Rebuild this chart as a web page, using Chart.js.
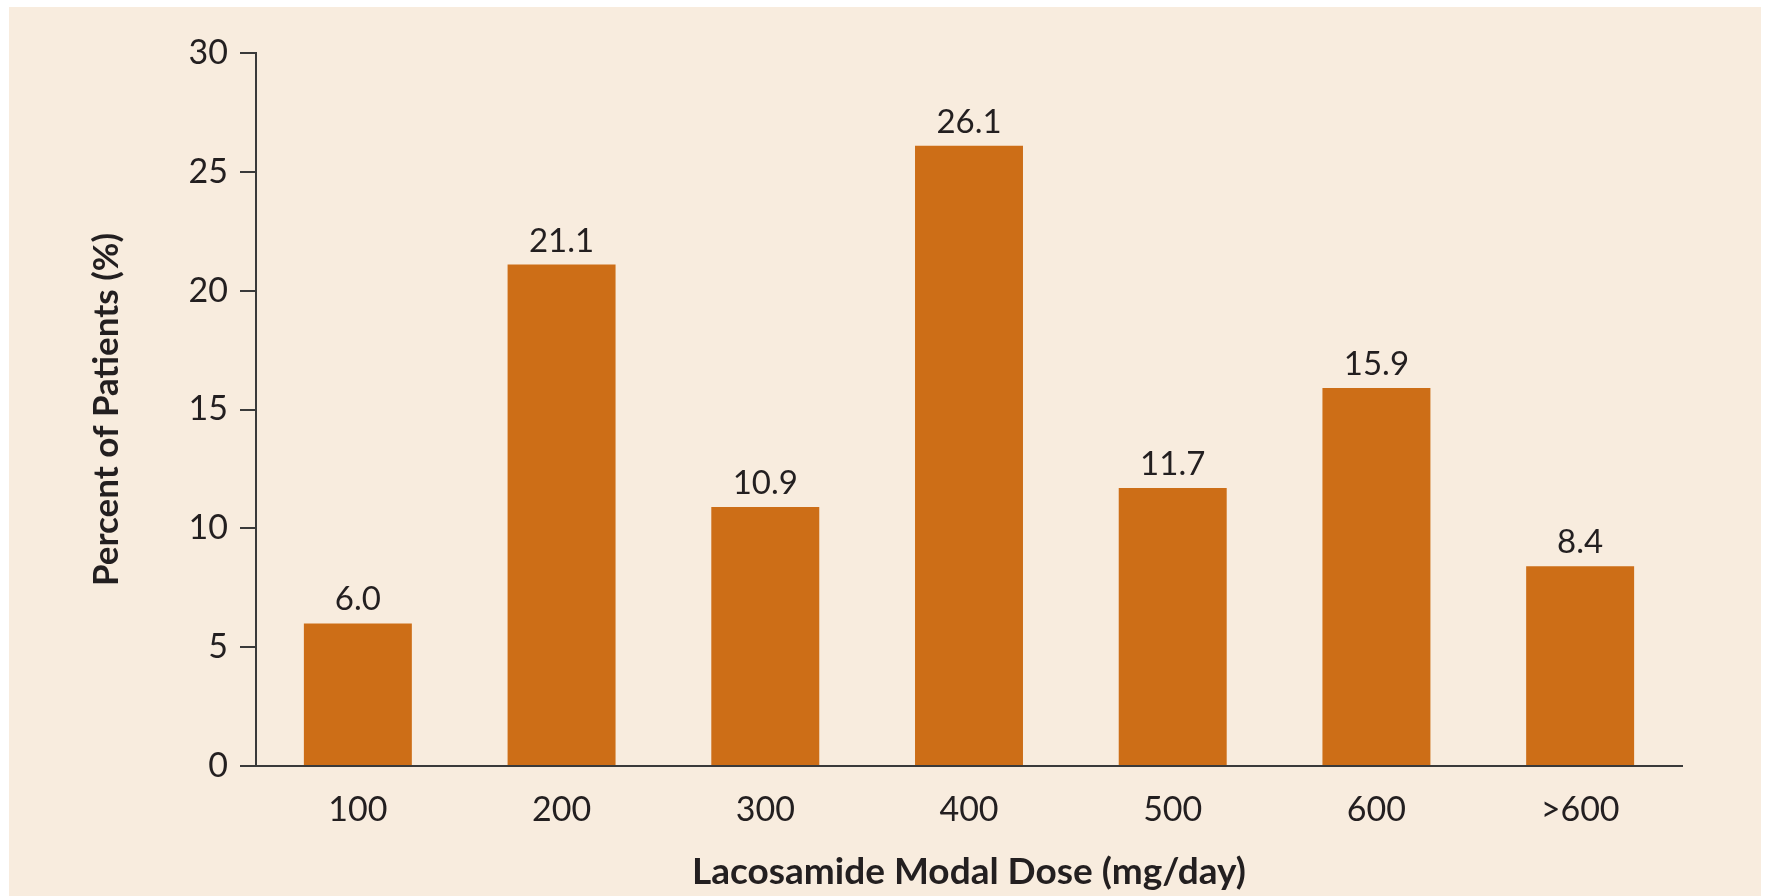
<!DOCTYPE html>
<html>
<head>
<meta charset="utf-8">
<script src="https://cdn.jsdelivr.net/npm/chart.js@4/dist/chart.umd.min.js"></script>
<style>
  html, body { margin: 0; padding: 0; background: #ffffff; }
  #wrap { position: absolute; left: 0; top: 0; width: 1767px; height: 896px; }
</style>
</head>
<body>
<div id="wrap"><canvas id="c" width="1767" height="896"></canvas></div>
<script>
const categories = ["100", "200", "300", "400", "500", "600", ">600"];
const percentPatients = [6.0, 21.1, 10.9, 26.1, 11.7, 15.9, 8.4];
const yTicks = [0, 5, 10, 15, 20, 25, 30];
const xTitle = "Lacosamide Modal Dose (mg/day)";
const yTitle = "Percent of Patients (%)";

const TEXT = "#231f20";
const AXIS = "#3a3a3a";
const BAR = "#cd6e17";
const PANEL = "#f8ecde";
const FONT = "Lato, 'Open Sans', sans-serif";

const panelPlugin = {
  id: "panel",
  beforeDraw(chart) {
    const ctx = chart.ctx;
    ctx.save();
    ctx.fillStyle = "#ffffff";
    ctx.fillRect(0, 0, chart.width, chart.height);
    ctx.fillStyle = PANEL;
    ctx.fillRect(9, 7, 1752, 889);
    ctx.restore();
  }
};

const valueLabels = {
  id: "valueLabels",
  afterDatasetsDraw(chart) {
    const ctx = chart.ctx;
    const meta = chart.getDatasetMeta(0);
    ctx.save();
    ctx.fillStyle = TEXT;
    ctx.font = "33px " + FONT;
    ctx.textAlign = "center";
    ctx.textBaseline = "alphabetic";
    meta.data.forEach((bar, i) => {
      ctx.fillText(percentPatients[i].toFixed(1), bar.x, bar.y - 13);
    });
    ctx.restore();
  }
};

new Chart(document.getElementById("c"), {
  type: "bar",
  data: {
    labels: categories,
    datasets: [{
      data: percentPatients,
      backgroundColor: BAR,
      borderWidth: 0,
      barPercentage: 0.53,
      categoryPercentage: 1.0
    }]
  },
  options: {
    responsive: false,
    animation: false,
    devicePixelRatio: 1,
    layout: { padding: { top: 53, right: 85, bottom: 0, left: 0 } },
    plugins: { legend: { display: false }, tooltip: { enabled: false } },
    scales: {
      x: {
        grid: { display: false },
        border: { display: true, color: AXIS, width: 2 },
        ticks: { color: TEXT, font: { family: FONT, size: 34 }, padding: 16 },
        title: { display: true, text: xTitle, color: TEXT,
                 font: { family: FONT, size: 37, weight: "bold" }, padding: { top: 0, bottom: 2 } },
        afterFit(scale) { scale.height = 130; }
      },
      y: {
        min: 0, max: 30,
        afterBuildTicks(scale) { scale.ticks = yTicks.map(v => ({ value: v })); },
        grid: { drawOnChartArea: false, drawTicks: true, tickLength: 16, color: AXIS, lineWidth: 2 },
        border: { display: true, color: AXIS, width: 2 },
        ticks: { color: TEXT, font: { family: FONT, size: 34 }, padding: 12 },
        title: { display: true, text: yTitle, color: TEXT,
                 font: { family: FONT, size: 35, weight: "bold" }, padding: { top: 86, bottom: 0 } },
        afterFit(scale) { scale.width = 256; }
      }
    }
  },
  plugins: [panelPlugin, valueLabels]
});
</script>
</body>
</html>
